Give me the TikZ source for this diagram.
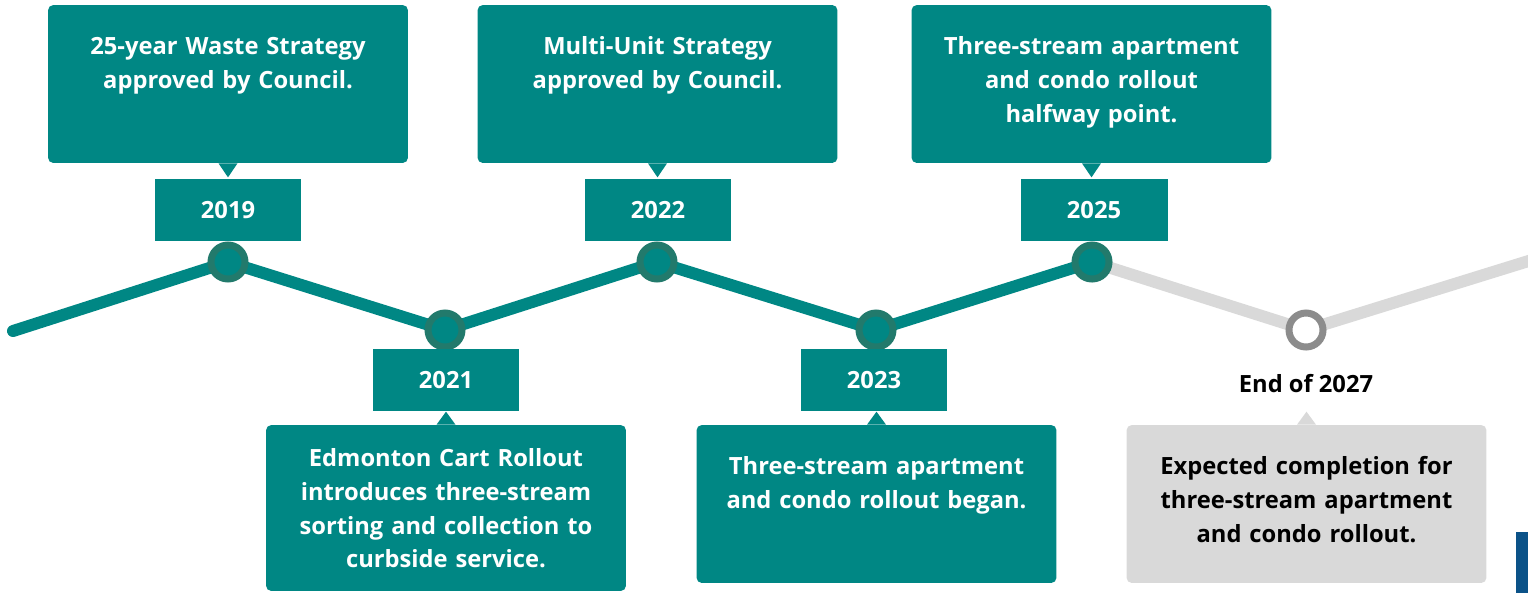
\documentclass[tikz,border=0pt]{standalone}
\usepackage{fontspec}
\setmainfont{Open Sans}
\usetikzlibrary{positioning}

\definecolor{wteal}{HTML}{008784}
\definecolor{wring}{HTML}{227A6C}
\definecolor{wgrey}{HTML}{D9D9D9}
\definecolor{wgreyring}{HTML}{8C8C8C}
\definecolor{wblue}{HTML}{0B5288}

\begin{document}
\begin{tikzpicture}[x=0.02cm, y=-0.02cm,
   every node/.style={font=\fontsize{13.5}{19.2}\selectfont\bfseries},
   callout/.style={fill=wteal, rounded corners=3pt, minimum width=7.2cm, minimum height=3.16cm, inner sep=0pt},
   notetext/.style={anchor=base, text width=6.9cm, align=center, text=white, inner sep=0pt},
   yearbox/.style={fill=wteal, text=white, minimum width=2.94cm, minimum height=1.24cm, inner sep=0pt},
   dot/.style={circle, draw=wring, line width=0.14cm, fill=wteal, minimum size=0.68cm, inner sep=0pt},
   track/.style={line width=0.24cm, line cap=round}]

   \useasboundingbox (0,0) rectangle (1528,593);

   % points of the timeline
   \coordinate (p0)  at (13,331);
   \coordinate (p19) at (228,262);
   \coordinate (p21) at (445,330);
   \coordinate (p22) at (657,262);
   \coordinate (p23) at (876,330);
   \coordinate (p25) at (1092,262);
   \coordinate (p27) at (1306,330);
   \coordinate (pend) at (1535,259);

   \draw[track, wgrey] (p25) -- (p27) -- (pend);
   \draw[track, wteal] (p0) -- (p19) -- (p21) -- (p22) -- (p23) -- (p25);

   \foreach \p in {19,21,22,23,25}
      \node[dot] (d\p) at (p\p) {};
   \node[dot, draw=wgreyring, fill=white] (d27) at (p27) {};

   % years
   \node[yearbox] (y19) at (228,210) {\raisebox{-1pt}{2019}};
   \node[yearbox] (y21) at (446,380) {\raisebox{-1pt}{2021}};
   \node[yearbox] (y22) at (658,210) {\raisebox{-1pt}{2022}};
   \node[yearbox] (y23) at (874,380) {\raisebox{-1pt}{2023}};
   \node[yearbox] (y25) at (1094,210) {\raisebox{-1pt}{2025}};
   \node (y27) at (1306,384) {End of 2027};

   % callouts above
   \node[callout] (c19) at (228,84) {};
   \node[notetext] (t19) at ([yshift=-1.0cm]c19.north) {25-year Waste Strategy\\approved by Council.};
   \fill[wteal] ([xshift=-0.19cm]c19.south) -- ++(9.5,14) -- ++(9.5,-14) -- cycle;

   \node[callout] (c22) at (657.5,84) {};
   \node[notetext] (t22) at ([yshift=-1.0cm]c22.north) {Multi-Unit Strategy\\approved by Council.};
   \fill[wteal] ([xshift=-0.19cm]c22.south) -- ++(9.5,14) -- ++(9.5,-14) -- cycle;

   \node[callout] (c25) at (1091.5,84) {};
   \node[notetext] (t25) at ([yshift=-1.0cm]c25.north) {Three-stream apartment\\and condo rollout\\halfway point.};
   \fill[wteal] ([xshift=-0.19cm]c25.south) -- ++(9.5,14) -- ++(9.5,-14) -- cycle;

   % callouts below
   \node[callout, minimum height=3.32cm] (c21) at (446,508) {};
   \node[notetext] (t21) at ([yshift=-0.84cm]c21.north) {Edmonton Cart Rollout\\introduces three-stream\\sorting and collection to\\curbside service.};
   \fill[wteal] ([xshift=-0.19cm]c21.north) -- ++(9.5,-13) -- ++(9.5,13) -- cycle;

   \node[callout] (c23) at (876.5,504) {};
   \node[notetext] (t23) at ([yshift=-1.0cm]c23.north) {Three-stream apartment\\and condo rollout began.};
   \fill[wteal] ([xshift=-0.19cm]c23.north) -- ++(9.5,-13) -- ++(9.5,13) -- cycle;

   \node[callout, fill=wgrey] (c27) at (1306.5,504) {};
   \node[notetext, text=black] (t27) at ([yshift=-1.0cm]c27.north) {Expected completion for\\three-stream apartment\\and condo rollout.};
   \fill[wgrey] ([xshift=-0.19cm]c27.north) -- ++(9.5,-13) -- ++(9.5,13) -- cycle;

   % edge of a cut-off block
   \fill[wblue] (1516,532) rectangle (1528,593);
\end{tikzpicture}
\end{document}
